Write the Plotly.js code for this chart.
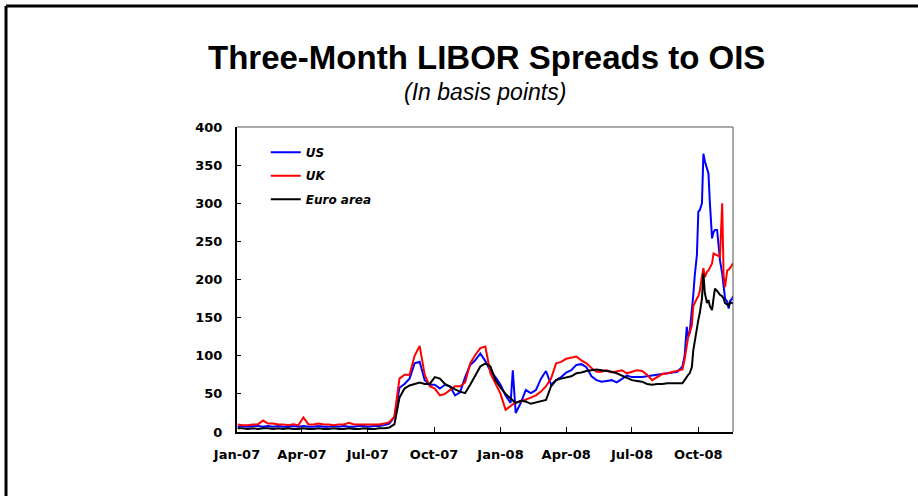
<!DOCTYPE html>
<html>
<head>
<meta charset="utf-8">
<script src="https://cdn.plot.ly/plotly-3.0.1.min.js"></script>
<style>
html,body{margin:0;padding:0;background:#fff;}
#chart{width:918px;height:496px;}
</style>
</head>
<body>
<div id="chart"></div>
<script>
// Dates (common grid for all series)
var dates = [
"2007-01-02","2007-01-09","2007-01-16","2007-01-23","2007-01-30","2007-02-06","2007-02-13","2007-02-20","2007-02-27",
"2007-03-06","2007-03-13","2007-03-20","2007-03-27","2007-04-03","2007-04-10","2007-04-17","2007-04-24",
"2007-05-01","2007-05-08","2007-05-15","2007-05-22","2007-05-29","2007-06-05","2007-06-12","2007-06-19","2007-06-26",
"2007-07-03","2007-07-10","2007-07-17","2007-07-24","2007-07-31","2007-08-07","2007-08-14","2007-08-21","2007-08-28",
"2007-09-04","2007-09-11","2007-09-18","2007-09-25","2007-10-02","2007-10-09","2007-10-16","2007-10-23","2007-10-30",
"2007-11-06","2007-11-13","2007-11-20","2007-11-27","2007-12-04","2007-12-11","2007-12-18","2007-12-25",
"2008-01-01","2008-01-08","2008-01-15","2008-01-18","2008-01-22","2008-01-29","2008-02-05","2008-02-12","2008-02-19","2008-02-26",
"2008-03-04","2008-03-11","2008-03-18","2008-03-25","2008-04-01","2008-04-08","2008-04-15","2008-04-22","2008-04-29",
"2008-05-06","2008-05-13","2008-05-20","2008-05-27","2008-06-03","2008-06-10","2008-06-17","2008-06-24",
"2008-07-01","2008-07-08","2008-07-15","2008-07-22","2008-07-29","2008-08-05","2008-08-12","2008-08-19","2008-08-26",
"2008-09-02","2008-09-09","2008-09-12","2008-09-15","2008-09-17","2008-09-19","2008-09-22","2008-09-24","2008-09-26","2008-09-29",
"2008-10-01","2008-10-03","2008-10-06","2008-10-08","2008-10-10","2008-10-13","2008-10-15","2008-10-17","2008-10-20","2008-10-22",
"2008-10-24","2008-10-27","2008-10-29","2008-10-31","2008-11-03","2008-11-05","2008-11-07","2008-11-10","2008-11-12","2008-11-14",
"2008-11-17","2008-11-18"
];

var usValues = [
7,8,7,8,8,7,8,7,8,
7,7,8,7,8,7,7,8,
7,7,8,7,8,7,7,8,8,
7,8,8,9,11,20,58,63,70,
90,92,68,62,62,57,62,60,48,
52,72,88,94,103,93,80,72,
62,48,38,81,25,38,55,51,55,70,
80,62,68,72,78,81,88,89,85,
73,68,66,67,68,65,70,74,
72,72,72,73,74,75,76,77,78,
79,86,100,138,125,130,155,180,205,232,
289,291,300,365,355,345,339,300,254,262,
265,265,240,225,208,190,175,171,162,172,
175,178
];

var ukValues = [
10,9,9,10,10,15,11,11,10,
10,9,10,9,19,10,10,11,
10,10,9,10,10,12,10,10,10,
10,10,10,11,13,20,70,75,75,
100,113,75,60,57,48,50,55,60,
60,65,90,101,110,112,77,64,
50,29,34,37,39,40,42,45,48,53,
60,70,90,92,96,98,99,94,90,
84,79,79,81,78,79,81,77,
79,81,80,75,68,72,76,77,79,
80,82,95,115,125,130,140,165,170,175,
178,185,204,215,203,210,212,215,221,234,
233,232,231,230,300,205,190,212,213,215,
220,221
];

var euroValues = [
5,5,4,5,4,5,5,4,5,
4,5,4,4,5,4,4,5,
4,4,5,4,4,5,4,4,5,
4,4,5,5,6,10,45,57,61,
63,65,63,63,72,70,63,59,56,
53,51,62,75,86,90,86,68,
58,50,44,41,38,41,40,37,39,40,
42,60,68,70,71,73,77,78,80,
81,82,81,80,79,77,74,70,
68,67,66,63,62,63,63,64,64,
64,64,68,73,75,77,85,107,120,134,
147,156,175,208,182,169,173,165,160,175,
188,185,182,180,178,175,169,167,166,170,
169,170
];

var seriesNames = ["US", "UK", "Euro area"];
var seriesColors = ["#0000FF", "#FF0000", "#000000"];

var tickDates = ["2007-01-01","2007-04-01","2007-07-01","2007-10-01","2008-01-01","2008-04-01","2008-07-01","2008-10-01"];
var tickLabels = ["Jan-07","Apr-07","Jul-07","Oct-07","Jan-08","Apr-08","Jul-08","Oct-08"];
var yTicks = [0,50,100,150,200,250,300,350,400];

var allValues = [usValues, ukValues, euroValues];
var traces = allValues.map(function(v, i){
  return {
    x: dates, y: v, type: "scatter", mode: "lines",
    name: seriesNames[i], legendgroup: "g" + i,
    line: {color: seriesColors[i], width: 2}
  };
});

var tickFont = {family: "DejaVu Sans, Verdana, sans-serif", size: 13, color: "#000", weight: "bold"};

var layout = {
  width: 918, height: 496,
  margin: {l: 237, r: 185, t: 127, b: 64},
  paper_bgcolor: "#fff", plot_bgcolor: "#fff",
  showlegend: true,
  legend: {
    x: 0.058, y: 0.965, xanchor: "left", yanchor: "top",
    bgcolor: "rgba(0,0,0,0)", traceorder: "grouped", tracegroupgap: 4.5,
    font: {family: "DejaVu Sans, Verdana, sans-serif", size: 12, color: "#000", weight: "bold", style: "italic"}
  },
  xaxis: {
    type: "date", range: ["2007-01-01", "2008-11-18"],
    tickvals: tickDates, ticktext: tickLabels,
    ticks: "inside", ticklen: 5, tickwidth: 1, tickcolor: "#000",
    showline: true, linecolor: "#000", linewidth: 2,
    showgrid: false, zeroline: false,
    tickfont: tickFont, ticklabelstandoff: 9
  },
  yaxis: {
    range: [0, 400], tickvals: yTicks,
    ticks: "inside", ticklen: 4, tickwidth: 1, tickcolor: "#000",
    showline: true, linecolor: "#000", linewidth: 2,
    showgrid: false, zeroline: false,
    tickfont: tickFont, ticklabelstandoff: 10
  },
  shapes: [
    {type: "line", xref: "paper", yref: "paper", x0: 0, x1: 1, y0: 1, y1: 1, line: {color: "#555", width: 1}},
    {type: "line", xref: "paper", yref: "paper", x0: 1, x1: 1, y0: 0, y1: 1, line: {color: "#555", width: 1}},
    {type: "line", xref: "paper", yref: "paper", x0: -0.4657, x1: 1.40, y0: 1.3967, y1: 1.3967, line: {color: "#000", width: 3}},
    {type: "line", xref: "paper", yref: "paper", x0: -0.4657, x1: -0.4657, y0: 1.3967, y1: -0.3, line: {color: "#000", width: 3}}
  ],
  annotations: [
    {text: "Three-Month LIBOR Spreads to OIS", xref: "paper", yref: "paper", x: 0.504, y: 1.2295,
     xanchor: "center", yanchor: "middle", showarrow: false,
     font: {family: "Liberation Sans, Arial, sans-serif", size: 33, color: "#000", weight: "bold"}},
    {text: "(In basis points)", xref: "paper", yref: "paper", x: 0.5, y: 1.1148,
     xanchor: "center", yanchor: "middle", showarrow: false,
     font: {family: "Liberation Sans, Arial, sans-serif", size: 23, color: "#000", style: "italic"}}
  ]
};

Plotly.newPlot("chart", traces, layout, {staticPlot: true, displayModeBar: false});
</script>
</body>
</html>
